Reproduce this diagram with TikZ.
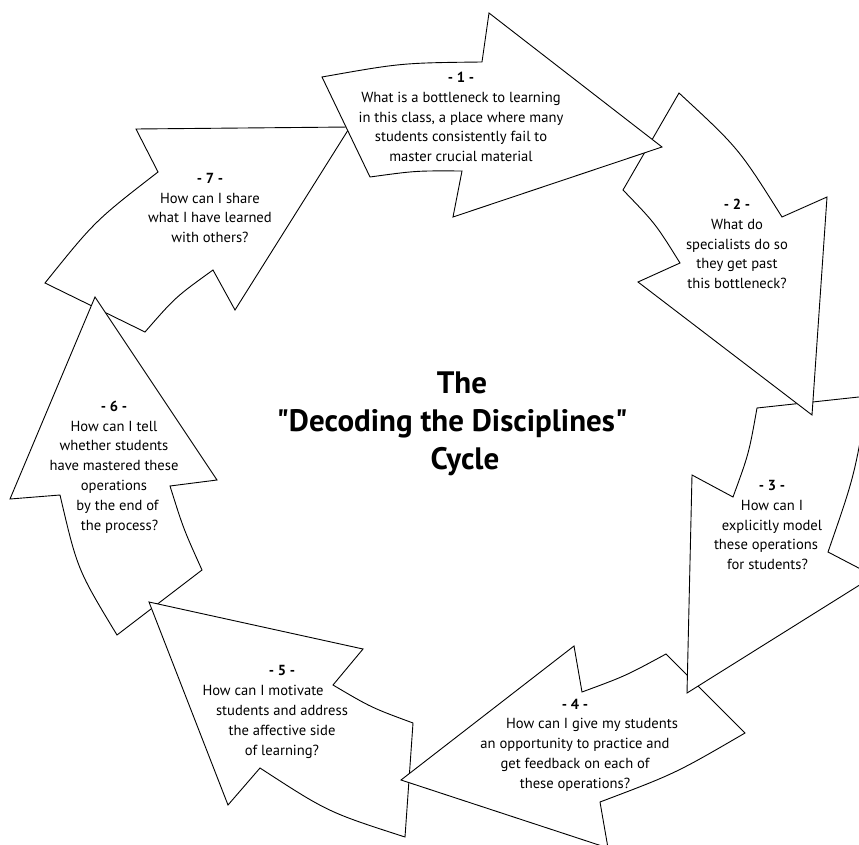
\documentclass[tikz,border=0pt]{standalone}
\usepackage{fontspec}
\setmainfont{PT Sans}
\newcommand{\dquote}{\XeTeXglyph\XeTeXcharglyph34\relax}
\begin{document}
\begin{tikzpicture}[x=1pt,y=-1pt]
	\tikzstyle{piece}=[draw=black,fill=white,line width=0.9pt,line join=miter]
	\tikzstyle{question}=[align=center,inner sep=0pt,font=\fontsize{14.6}{19.8}\selectfont]
	\tikzstyle{heading}=[align=center,inner sep=0pt,font=\fontsize{31}{38}\selectfont\bfseries]
	\useasboundingbox (0,0) rectangle (859,845);
	\clip (0,0) rectangle (859,845);

	% arrows, drawn from 7 back to 1 so each tip lies over the next tail
	\path[piece] (350,127) -- (136,129) -- (158,172) .. controls (95,220.8) .. (45,283)
		-- (145,332) .. controls (175.4,297.1) .. (213,270) -- (235,310) -- cycle;
	\path[piece] (95,297) -- (10,499) -- (60,495) .. controls (77.4,569.5) .. (117,635)
		-- (202,570) .. controls (183.5,529) .. (170,486) -- (217,480) -- cycle;
	\path[piece] (149,602) -- (363,649) -- (333,685) .. controls (371.3,707.6) .. (413,723)
		-- (405,837) .. controls (327.9,812.1) .. (260,768) -- (228,805) -- cycle;
	\path[piece] (401,780) -- (574,646) -- (582,692) .. controls (625.4,676) .. (666,654)
		-- (745,733) .. controls (675.4,773.5) .. (600,802) -- (608,848) -- cycle;
	\path[piece] (757,408) .. controls (748.9,453.5) .. (733,497) -- (692,475) -- (687,693)
		-- (874,576) -- (828,552) .. controls (854.5,475.7) .. (868,396) -- cycle;
	\path[piece] (679,93) -- (623,190) .. controls (655.4,223.5) .. (680,263) -- (638,282)
		-- (812,415) -- (827,197) -- (782,217) .. controls (738.7,148.2) .. cycle;
	\path[piece] (322,77) .. controls (401.4,62.9) .. (482,62) -- (489,13) -- (662,147)
		-- (453,217) -- (462,171) .. controls (415.8,170.7) .. (370,177) -- cycle;

	% texts
	\node[question] (q1) at (461,117) {\textbf{- 1 -}\\What is a bottleneck to learning\\in this class, a place where many\\students consistently fail to\\master crucial material};
	\node[question] (q2) at (737,244) {\textbf{- 2 -}\\What do\\specialists do so\\they get past\\this bottleneck?};
	\node[question] (q3) at (772,525) {\textbf{- 3 -}\\How can I\\explicitly model\\these operations\hspace*{12pt}\mbox{}\\for students?\hspace*{9pt}\mbox{}};
	\node[question] (q4) at (575,745) {\textbf{- 4 -}\\\hspace*{34pt}How can I give my students\\an opportunity to practice and\\get feedback on each of\\these operations?};
	\node[question] (q5) at (282,712) {\textbf{- 5 -}\\How can I motivate\hspace*{38pt}\mbox{}\\students and address\\the affective side\\of learning?};
	\node[question] (q6) at (114,467) {\textbf{- 6 -}\\How can I tell\\whether students\\have mastered these\\operations\\\hspace*{7pt}by the end of\\\hspace*{11pt}the process?};
	\node[question] (q7) at (210,208) {\textbf{- 7 -}\\How can I share\\what I have learned\\with others?};
	\node[heading] (title) at (452,424) {\hspace*{20pt}The\\\dquote Decoding the Disciplines\dquote\\\hspace*{26pt}Cycle};
\end{tikzpicture}
\end{document}
